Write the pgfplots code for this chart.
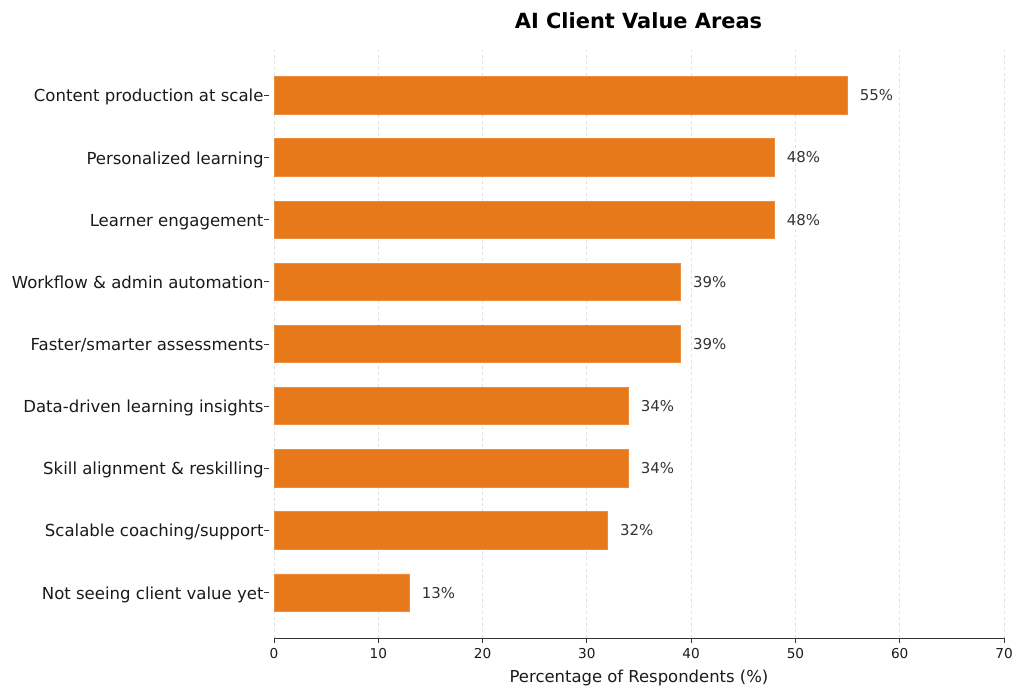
\documentclass[border=0pt]{standalone}
\usepackage{pgfplots}
\pgfplotsset{compat=1.18}
\usepackage{fontspec}
\setmainfont{DejaVu Sans}
\definecolor{barc}{HTML}{E8791A}
\definecolor{txt}{HTML}{1A1A1A}
\definecolor{vtxt}{HTML}{333333}
\pgfplotstableread{
idx val
8 55
7 48
6 48
5 39
4 39
3 34
2 34
1 32
0 13
}\datatable
\begin{document}
\begin{tikzpicture}[x=1bp,y=1bp]
\useasboundingbox (0,0) rectangle (1024,697);
\begin{axis}[
  at={(274bp,59bp)}, anchor=south west,
  scale only axis, width=730bp, height=588bp,
  xmin=0, xmax=70, ymin=-0.73, ymax=8.73,
  xtick={0,10,...,70}, ytick={0,...,8},
  yticklabels={Not seeing client value yet, Scalable coaching/support, Skill alignment \& reskilling, Data-driven learning insights, Faster/smarter assessments, Workflow \& admin automation, Learner engagement, Personalized learning, Content production at scale},
  axis x line*=bottom, axis y line*=left,
  y axis line style={black!12, dashed, line width=0.8bp, -},
  x axis line style={black!80, line width=0.8bp, -},
  tick align=outside, major tick length=5bp,
  tick style={black!80, line width=0.8bp, solid},
  ytick style={xshift=-5bp},
  xmajorgrids, grid style={dashed, black!12, line width=0.8bp},
  /pgf/number format/assume math mode=true,
  xticklabel style={font=\fontsize{13.7}{16}\selectfont, text=txt, yshift=-2bp},
  yticklabel style={font=\fontsize{16.6}{19}\selectfont, text=txt, anchor=base east, yshift=-6.5bp, xshift=-2bp},
  xlabel={Percentage of Respondents (\%)},
  xlabel style={font=\fontsize{16.5}{19}\selectfont, text=txt, at={(axis description cs:0.5,0)}, anchor=base, yshift=-45bp},
]
\addplot[xbar, bar width=37.3bp, fill=barc, draw=barc!85!white, line width=0.8bp,
  nodes near coords={\pgfmathprintnumber{\pgfplotspointmeta}\%},
  point meta=explicit,
  nodes near coords style={anchor=west, inner sep=0pt, xshift=12bp, font=\fontsize{15}{18}\selectfont, text=vtxt}]
  table[x=val, y=idx, meta=val] {\datatable};
\end{axis}
\node[font=\fontsize{21}{25}\bfseries\selectfont, text=black] at (638.5,676) {AI Client Value Areas};
\end{tikzpicture}
\end{document}
